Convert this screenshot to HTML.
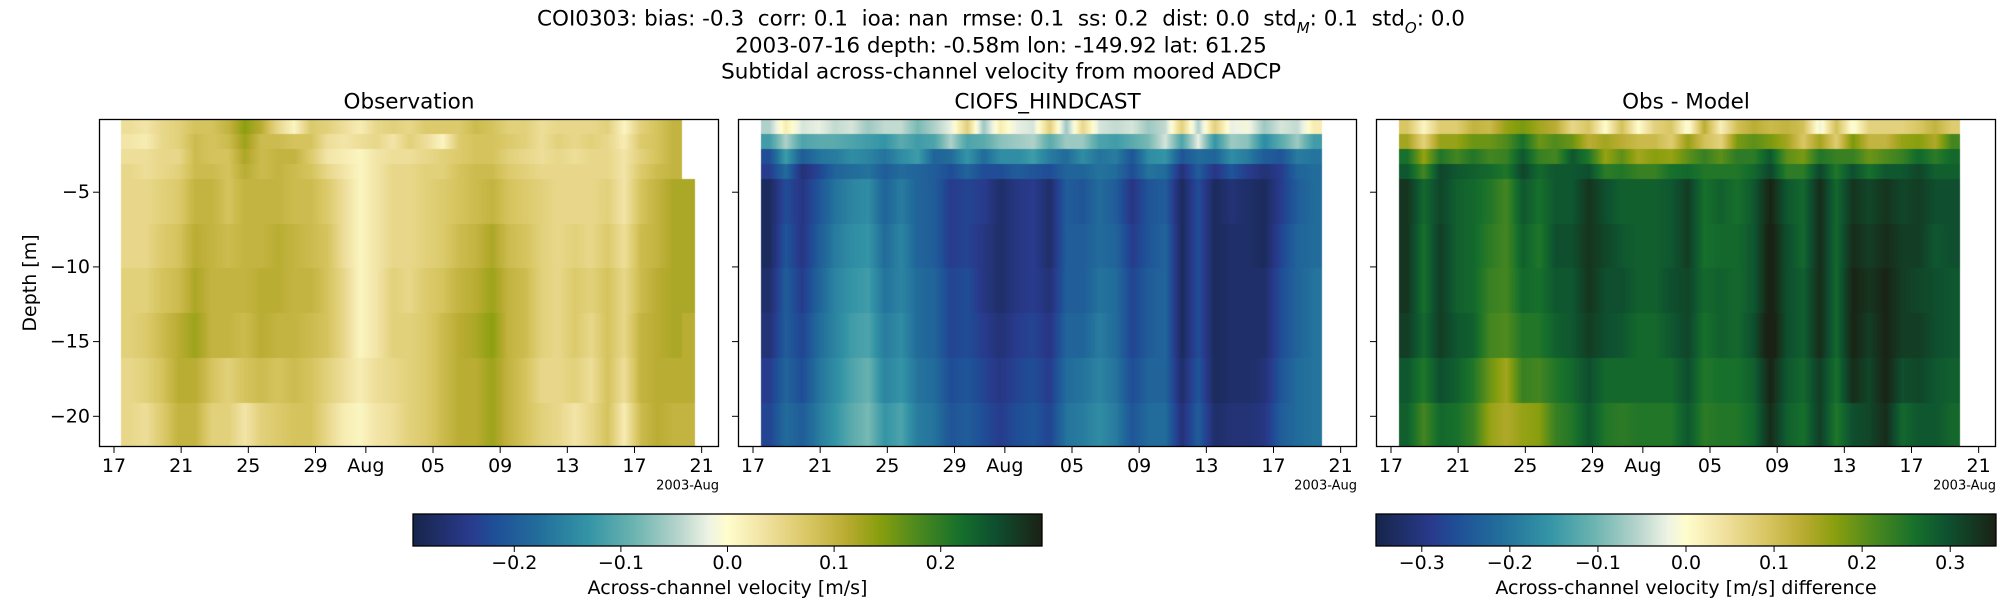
<!DOCTYPE html>
<html><head><meta charset="utf-8">
<style>
html,body{margin:0;padding:0;background:#fff;width:2000px;height:600px;overflow:hidden}
#wrap{position:relative;width:2000px;height:600px;font-family:"DejaVu Sans","Liberation Sans",sans-serif}
canvas{position:absolute}
svg{position:absolute;left:0;top:0}
text{font-family:"DejaVu Sans","Liberation Sans",sans-serif;fill:#000}
</style></head>
<body>
<div id="wrap">
<canvas id="c0" width="620" height="328" style="left:99px;top:119px"></canvas>
<canvas id="c1" width="619" height="328" style="left:738px;top:119px"></canvas>
<canvas id="c2" width="620" height="328" style="left:1376px;top:119px"></canvas>
<svg id="ov" width="2000" height="600"></svg>
</div>
<script>
const depthEdges = [-0.1,-1.1,-2.1,-3.1,-4.1,-7.1,-10.1,-13.1,-16.1,-19.1,-22.05];
const dayLabels = ["17","21","25","29","Aug","05","09","13","17","21"];
const dayTicks = [0,4,8,12,15,19,23,27,31,35];
const depthTicks = [-5,-10,-15,-20];
const obsStart = 0.42, obsEnd = 33.83, obsExtEnd = 34.6;
const modStart = 0.48, modEnd = 33.9;
const obsR0=[0.04,0.03,0.05,0.06,0.08,0.08,0.10,0.14,0.11,0.05,0.01,0.07,0.06,0.04,0.02,0.05,0.06,0.05,0.07,0.07,0.07,0.09,0.08,0.06,0.06,0.04,0.05,0.05,0.05,0.06,0.01,0.06,0.08,0.10];
const obsR1=[0.03,0.02,0.05,0.06,0.09,0.08,0.09,0.13,0.09,0.09,0.08,0.08,0.04,0.03,0.04,0.05,0.03,0.06,0.04,0.01,0.07,0.08,0.08,0.07,0.06,0.04,0.06,0.05,0.06,0.05,0.02,0.07,0.08,0.10];
const obsR2=[0.04,0.04,0.05,0.05,0.09,0.08,0.08,0.12,0.09,0.10,0.10,0.07,0.03,0.02,0.01,0.03,0.04,0.04,0.05,0.06,0.07,0.08,0.08,0.06,0.05,0.04,0.05,0.04,0.05,0.05,0.03,0.06,0.08,0.10];
const obsR3=[0.05,0.04,0.05,0.06,0.09,0.09,0.08,0.11,0.09,0.10,0.09,0.08,0.05,0.03,0.01,0.03,0.05,0.05,0.06,0.06,0.08,0.09,0.09,0.07,0.06,0.05,0.05,0.05,0.05,0.05,0.03,0.07,0.09,0.10];
const obsR4=[0.05,0.05,0.06,0.07,0.10,0.10,0.08,0.10,0.10,0.10,0.09,0.09,0.07,0.04,0.01,0.03,0.05,0.05,0.06,0.07,0.08,0.09,0.10,0.08,0.07,0.06,0.05,0.05,0.05,0.06,0.03,0.08,0.10,0.12];
const obsR5=[0.05,0.05,0.07,0.08,0.11,0.10,0.09,0.10,0.10,0.11,0.10,0.09,0.08,0.04,0.01,0.03,0.05,0.05,0.06,0.07,0.09,0.10,0.12,0.09,0.08,0.06,0.05,0.06,0.05,0.07,0.04,0.09,0.10,0.12];
const obsR6=[0.06,0.06,0.08,0.09,0.12,0.10,0.10,0.10,0.11,0.11,0.10,0.10,0.08,0.05,0.01,0.03,0.06,0.05,0.07,0.08,0.10,0.11,0.13,0.10,0.09,0.06,0.05,0.07,0.06,0.08,0.05,0.09,0.11,0.12];
const obsR7=[0.06,0.07,0.09,0.11,0.13,0.10,0.10,0.09,0.11,0.10,0.10,0.09,0.08,0.05,0.01,0.03,0.06,0.06,0.07,0.09,0.11,0.12,0.14,0.10,0.09,0.06,0.05,0.07,0.05,0.08,0.05,0.10,0.11,0.12];
const obsR8=[0.05,0.06,0.08,0.11,0.11,0.08,0.06,0.08,0.09,0.08,0.09,0.08,0.06,0.04,0.02,0.04,0.05,0.06,0.07,0.09,0.11,0.11,0.13,0.10,0.08,0.05,0.05,0.06,0.04,0.08,0.04,0.10,0.11,0.11];
const obsR9=[0.05,0.04,0.07,0.10,0.10,0.06,0.06,0.03,0.06,0.07,0.08,0.08,0.05,0.02,0.01,0.03,0.04,0.06,0.07,0.09,0.11,0.11,0.13,0.10,0.08,0.06,0.05,0.03,0.05,0.08,0.02,0.09,0.11,0.10];
const obsExt=[null,null,null,null,0.12,0.12,0.12,0.11,0.11,0.10];
const modR0=[-0.05,0.02,-0.03,-0.02,-0.04,-0.03,-0.06,-0.04,-0.04,-0.08,-0.05,-0.02,0.06,-0.06,0.02,-0.02,-0.03,0.06,-0.06,0.05,-0.03,-0.04,-0.03,-0.06,-0.04,0.06,-0.05,0.06,-0.02,-0.01,-0.06,-0.03,-0.04,0.02];
const modR1=[-0.12,-0.05,-0.11,-0.10,-0.10,-0.11,-0.12,-0.13,-0.10,-0.12,-0.11,-0.05,-0.11,-0.10,-0.07,-0.06,-0.05,-0.10,-0.06,-0.06,-0.11,-0.12,-0.10,-0.08,-0.03,-0.11,-0.02,-0.13,-0.06,-0.07,-0.14,-0.10,-0.06,-0.12];
const modR2=[-0.22,-0.12,-0.20,-0.17,-0.16,-0.14,-0.15,-0.17,-0.14,-0.12,-0.19,-0.18,-0.13,-0.18,-0.14,-0.14,-0.12,-0.16,-0.18,-0.14,-0.17,-0.16,-0.21,-0.14,-0.13,-0.21,-0.18,-0.19,-0.14,-0.16,-0.20,-0.21,-0.16,-0.17];
const modR3=[-0.24,-0.18,-0.26,-0.23,-0.19,-0.18,-0.17,-0.20,-0.18,-0.19,-0.20,-0.22,-0.19,-0.22,-0.22,-0.20,-0.21,-0.22,-0.19,-0.19,-0.17,-0.18,-0.22,-0.17,-0.18,-0.26,-0.20,-0.25,-0.21,-0.24,-0.26,-0.24,-0.19,-0.18];
const modR4=[-0.28,-0.22,-0.25,-0.21,-0.17,-0.15,-0.14,-0.19,-0.16,-0.19,-0.20,-0.24,-0.23,-0.24,-0.27,-0.25,-0.24,-0.27,-0.20,-0.21,-0.18,-0.20,-0.25,-0.21,-0.20,-0.28,-0.22,-0.28,-0.26,-0.27,-0.28,-0.24,-0.20,-0.18];
const modR5=[-0.28,-0.21,-0.25,-0.20,-0.16,-0.14,-0.13,-0.18,-0.15,-0.19,-0.20,-0.24,-0.23,-0.25,-0.27,-0.25,-0.24,-0.27,-0.20,-0.20,-0.18,-0.19,-0.24,-0.21,-0.19,-0.28,-0.22,-0.28,-0.27,-0.27,-0.28,-0.23,-0.19,-0.18];
const modR6=[-0.27,-0.20,-0.24,-0.19,-0.15,-0.13,-0.12,-0.17,-0.15,-0.18,-0.19,-0.23,-0.22,-0.25,-0.27,-0.25,-0.24,-0.26,-0.20,-0.20,-0.17,-0.18,-0.23,-0.20,-0.19,-0.28,-0.22,-0.28,-0.27,-0.27,-0.27,-0.22,-0.19,-0.17];
const modR7=[-0.26,-0.20,-0.23,-0.18,-0.15,-0.12,-0.11,-0.16,-0.14,-0.18,-0.19,-0.23,-0.22,-0.24,-0.26,-0.24,-0.23,-0.25,-0.19,-0.19,-0.16,-0.18,-0.23,-0.20,-0.19,-0.28,-0.22,-0.28,-0.27,-0.27,-0.27,-0.22,-0.19,-0.17];
const modR8=[-0.24,-0.19,-0.22,-0.17,-0.14,-0.11,-0.09,-0.15,-0.13,-0.17,-0.18,-0.22,-0.21,-0.23,-0.25,-0.23,-0.22,-0.24,-0.18,-0.17,-0.15,-0.17,-0.22,-0.19,-0.19,-0.27,-0.21,-0.28,-0.27,-0.27,-0.26,-0.21,-0.18,-0.17];
const modR9=[-0.23,-0.18,-0.20,-0.16,-0.13,-0.10,-0.08,-0.13,-0.11,-0.16,-0.17,-0.21,-0.20,-0.22,-0.24,-0.22,-0.21,-0.23,-0.17,-0.16,-0.14,-0.16,-0.21,-0.18,-0.18,-0.26,-0.20,-0.27,-0.26,-0.26,-0.25,-0.20,-0.18,-0.17];
const obsRows=[obsR0,obsR1,obsR2,obsR3,obsR4,obsR5,obsR6,obsR7,obsR8,obsR9];
const modRows=[modR0,modR1,modR2,modR3,modR4,modR5,modR6,modR7,modR8,modR9];
const velTicks=[-0.2,-0.1,0.0,0.1,0.2];
const diffTicks=[-0.3,-0.2,-0.1,0.0,0.1,0.2,0.3];
const velLim=0.295, diffLim=0.352;

const cmStops=[[0,"#16254a"],[0.09,"#293a8c"],[0.13,"#1f4f97"],[0.2,"#226e9b"],[0.28,"#3495a6"],[0.35,"#6ab3b0"],[0.42,"#b4d3cb"],[0.47,"#eef3e4"],[0.5,"#fffdcd"],[0.56,"#f0e1a0"],[0.63,"#d8c662"],[0.69,"#b8ab30"],[0.74,"#8a9f0e"],[0.8,"#4e8a1e"],[0.87,"#16702b"],[0.92,"#0e5230"],[1,"#1a2215"]];
function hx(h){return [parseInt(h.substr(1,2),16),parseInt(h.substr(3,2),16),parseInt(h.substr(5,2),16)];}
const cmRGB=cmStops.map(s=>[s[0],hx(s[1])]);
function cmap(f){f=Math.max(0,Math.min(1,f));for(let i=1;i<cmRGB.length;i++){if(f<=cmRGB[i][0]){const a=cmRGB[i-1],b=cmRGB[i];const u=(f-a[0])/(b[0]-a[0]);return 'rgb('+a[1].map((v,k)=>Math.round(v+(b[1][k]-v)*u)).join(',')+')';}}return 'rgb(26,34,21)';}

const PX_DAY=16.79, X0OFF=15, PX_M=14.94, YTOP=-0.1;
function xs(d){return X0OFF+d*PX_DAY;}
function ys(z){return (YTOP-z)*PX_M;}

function interp(arr,start,end,t){
  const n=arr.length, w=(end-start)/n;
  let p=(t-start)/w-0.5;
  if(p<=0)return arr[0]; if(p>=n-1)return arr[n-1];
  const i=Math.floor(p),u=p-i; return arr[i]+(arr[i+1]-arr[i])*u;
}
function drawPanel(id,rows,start,end,lim,ext){
  const cv=document.getElementById(id),ctx=cv.getContext('2d');
  for(let r=0;r<rows.length;r++){
    const y0=ys(depthEdges[r]),y1=ys(depthEdges[r+1]);
    const xa=Math.round(xs(start)),xb=Math.round(xs(end));
    for(let x=xa;x<xb;x++){
      const t=(x+0.5-X0OFF)/PX_DAY;
      const v=interp(rows[r],start,end,t);
      ctx.fillStyle=cmap(0.5+v/(2*lim));
      ctx.fillRect(x,Math.round(y0),1,Math.round(y1)-Math.round(y0));
    }
    if(ext&&ext[r]!=null){
      ctx.fillStyle=cmap(0.5+ext[r]/(2*lim));
      ctx.fillRect(xb,Math.round(y0),Math.round(xs(obsExtEnd))-xb,Math.round(y1)-Math.round(y0));
    }
  }
}
drawPanel('c0',obsRows,obsStart,obsEnd,velLim,obsExt);
drawPanel('c1',modRows,modStart,modEnd,velLim,null);
const diffRows=obsRows.map((row,r)=>row.map((v,i)=>v-modRows[r][i]));
drawPanel('c2',diffRows,modStart,modEnd,diffLim,null);

const NS='http://www.w3.org/2000/svg';
const ov=document.getElementById('ov');
function el(tag,attrs,txt){const e=document.createElementNS(NS,tag);for(const k in attrs)e.setAttribute(k,attrs[k]);if(txt!=null)e.textContent=txt;ov.appendChild(e);return e;}
function txt(x,y,s,size,anchor,name){const e=el('text',{x:x,y:y,'font-size':size,'text-anchor':anchor||'middle','dominant-baseline':'central'},s);


return e;}

const t1=txt(1001,19,'','21.5px','middle','title-stats');
t1.innerHTML='COI0303: bias: -0.3  corr: 0.1  ioa: nan  rmse: 0.1  ss: 0.2  dist: 0.0  std<tspan baseline-shift="sub" font-size="15px" font-style="italic">M</tspan>: 0.1  std<tspan baseline-shift="sub" font-size="15px" font-style="italic">O</tspan>: 0.0';
t1.style.whiteSpace='pre';
txt(1001,46,'2003-07-16 depth: -0.58m lon: -149.92 lat: 61.25','21.5px','middle','title-location');
txt(1001,72,'Subtidal across-channel velocity from moored ADCP','21.5px','middle','title-description');

const panels=[[99,620,'Observation','observation'],[738,619,'CIOFS_HINDCAST','model'],[1376,620,'Obs - Model','difference']];
panels.forEach((p,pi)=>{
  const [L,W,title,nm]=p;
  txt(L+W/2,102,title,'21.5px','middle',nm+'-title');
  const fr=el('rect',{x:L+0.5,y:119.5,width:W-1,height:327,fill:'none',stroke:'#000','stroke-width':1.3});
  
  
  dayTicks.forEach((d,i)=>{
    const x=L+xs(d);
    const tk=el('line',{x1:x,x2:x,y1:447,y2:453,stroke:'#000','stroke-width':1});
    
    
    txt(x,466,dayLabels[i],'19px','middle',nm+'-x-tick-label');
  });
  txt(L+W,486,'2003-Aug','13px','end',nm+'-x-offset-label');
  depthTicks.forEach(z=>{
    const y=119+ys(z);
    const tk=el('line',{x1:L-6,x2:L,y1:y,y2:y,stroke:'#000','stroke-width':1});
    
    
    if(pi===0)txt(L-9,y,'\u2212'+Math.abs(z),'19px','end','y-tick-label');
  });
});
const yl=txt(30,283,'Depth [m]','19px','middle','y-axis-title');
yl.setAttribute('transform','rotate(-90 30 283)');

const defs=el('defs',{});
const grad=document.createElementNS(NS,'linearGradient');grad.setAttribute('id','cmg');
cmStops.forEach(s=>{const st=document.createElementNS(NS,'stop');st.setAttribute('offset',s[0]);st.setAttribute('stop-color',s[1]);grad.appendChild(st);});
defs.appendChild(grad);
function colorbar(L,R,lim,ticks,label,nm){
  const r=el('rect',{x:L,y:514,width:R-L,height:32,fill:'url(#cmg)',stroke:'#000','stroke-width':1.3});
  
  
  const c=(L+R)/2,scale=(R-L)/(2*lim);
  ticks.forEach(v=>{
    const x=c+v*scale;
    const tk=el('line',{x1:x,x2:x,y1:546,y2:552,stroke:'#000','stroke-width':1});
    
    
    txt(x,563,(v<0?'\u2212':'')+Math.abs(v).toFixed(1),'19px','middle',nm+'-tick-label');
  });
  txt(c,588,label,'19px','middle',nm+'-label');
}
colorbar(413,1042,velLim,velTicks,'Across-channel velocity [m/s]','velocity-colorbar');
colorbar(1376,1996,diffLim,diffTicks,'Across-channel velocity [m/s] difference','difference-colorbar');
</script>
</body></html>
